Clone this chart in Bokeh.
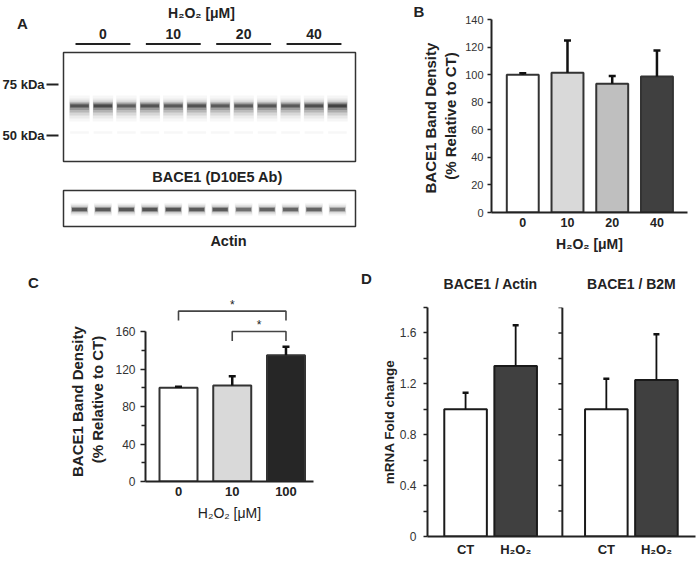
import numpy as np
from bokeh.plotting import figure
from bokeh.layouts import row, column
from bokeh.models import Range1d, FixedTicker, Whisker, TeeHead, ColumnDataSource, LinearAxis
from bokeh.core.properties import value
from bokeh.embed import file_html
from bokeh.resources import INLINE

FONT = "Liberation Sans"
TXT = "#222222"

# ---------------- data ----------------
# Panel A (western blot)
lanes = list(range(1, 13))
groups_A = ["0", "10", "20", "40"]
group_centers_A = [2, 5, 8, 11]
bace1_intensity = [0.95, 1.05, 0.85, 0.95, 0.90, 0.95, 0.88, 0.88, 0.92, 0.90, 0.98, 1.12]
actin_intensity = [0.95, 0.95, 0.98, 1.00, 1.00, 0.95, 0.95, 0.78, 0.88, 0.86, 0.88, 0.70]
marker_labels = ["75 kDa", "50 kDa"]

# Panel B
b_cats = ["0", "10", "20", "40"]
b_vals = [100.0, 101.3, 93.4, 98.7]
b_err = [1.0, 23.4, 5.7, 18.8]
b_colors = ["#ffffff", "#d9d9d9", "#bfbfbf", "#404040"]
b_yticks = [0, 20, 40, 60, 80, 100, 120, 140]

# Panel C
c_cats = ["0", "10", "100"]
c_vals = [100.0, 102.4, 134.8]
c_err = [1.0, 9.9, 8.9]
c_colors = ["#ffffff", "#d9d9d9", "#262626"]
c_pairs = [(0, 2), (1, 2)]
c_sig = ["*", "*"]
c_yticks = [0, 40, 80, 120, 160]
c_yminor = [20, 60, 100, 140]

# Panel D
d_groups = ["BACE1 / Actin", "BACE1 / B2M"]
d_cats = ["CT", "H\u2082O\u2082"]
d_vals = [[1.00, 1.34], [1.00, 1.23]]
d_err = [[0.13, 0.32], [0.24, 0.36]]
d_colors = ["#ffffff", "#404040"]
d_yticks = [0, 0.4, 0.8, 1.2, 1.6]
d_yminor = [0.2, 0.6, 1.0, 1.4, 1.8]

H2O2 = "H\u2082O\u2082 [\u03bcM]"
NB = "\u00a0"


def base_fig(w, h, xr, yr, **kw):
    p = figure(width=w, height=h, x_range=xr, y_range=yr, toolbar_location=None,
               output_backend="svg", outline_line_color=None,
               background_fill_color="white", border_fill_color="white", **kw)
    p.xgrid.visible = False
    p.ygrid.visible = False
    return p


def style_axis(ax):
    ax.axis_line_width = 2
    ax.axis_line_color = "#222222"
    ax.major_tick_line_color = "#222222"
    ax.major_tick_line_width = 1.5
    ax.minor_tick_line_color = "#222222"
    ax.minor_tick_line_width = 1.5
    ax.major_tick_in = 0
    ax.minor_tick_in = 0
    ax.major_label_text_font = FONT
    ax.major_label_text_color = "#333333"
    ax.axis_label_text_font = FONT
    ax.axis_label_text_color = TXT


# ---------------- Panel A (also carries the C and D letters) ----------------
LANE_PX = 23.45
def lx(px):
    return 1 + (px - 79) / LANE_PX

pA = base_fig(378, 292, Range1d(lx(0), lx(378)), Range1d(292, 0),
              x_axis_location=None, y_axis_location=None, min_border=0)

# BACE1 band: layers (top, bottom, width in lanes, alpha)
for top, bot, wid, a in [(95, 121, 0.88, 0.035), (98, 118, 0.86, 0.05), (100, 115, 0.85, 0.09),
                         (101.5, 112, 0.84, 0.15), (102.5, 109.5, 0.82, 0.18),
                         (103.5, 107.5, 0.80, 0.25), (104.3, 106.5, 0.78, 0.30)]:
    pA.rect(x=lanes, y=(top + bot) / 2, width=wid, height=bot - top, fill_color="black",
            fill_alpha=[min(1.0, a * v) for v in bace1_intensity], line_color=None)
pA.rect(x=lanes, y=132, width=0.8, height=2.5, fill_color="black", fill_alpha=0.03, line_color=None)
# actin band
for top, bot, wid, a in [(203, 215, 0.76, 0.07), (205, 213, 0.72, 0.14),
                         (206.5, 211.5, 0.68, 0.28), (207.5, 210.5, 0.64, 0.42)]:
    pA.rect(x=lanes, y=(top + bot) / 2, width=wid, height=bot - top, fill_color="black",
            fill_alpha=[min(1.0, a * v) for v in actin_intensity], line_color=None)

pA.quad(left=[lx(63), lx(63)], right=[lx(355), lx(355)], top=[52, 190], bottom=[161, 226],
        fill_color=None, line_color="#333333", line_width=1.5)

pA.segment(x0=[lx(46)] * 2, x1=[lx(58)] * 2, y0=[84, 135], y1=[84, 135], line_color=TXT, line_width=2)
pA.text(x=[lx(44)] * 2, y=[84, 135], text=marker_labels, text_font=value(FONT),
        text_font_style="bold", text_font_size="13px", text_color=TXT,
        text_align="right", text_baseline="middle")

pA.text(x=group_centers_A, y=[33] * 4, text=groups_A, text_font=value(FONT),
        text_font_style="bold", text_font_size="14px", text_color=TXT,
        text_align="center", text_baseline="middle")
pA.segment(x0=[g - 1.17 for g in group_centers_A], x1=[g + 1.17 for g in group_centers_A],
           y0=[43.5] * 4, y1=[43.5] * 4, line_color=TXT, line_width=2)
pA.text(x=[lx(201)], y=[12], text=[H2O2], text_font=value(FONT), text_font_style="bold",
        text_font_size="14px", text_color=TXT, text_align="center", text_baseline="middle")
pA.text(x=[lx(217), lx(228)], y=[176, 240], text=["BACE1 (D10E5 Ab)", "Actin"],
        text_font=value(FONT), text_font_style="bold", text_font_size="14.5px",
        text_color=TXT, text_align="center", text_baseline="middle")
pA.text(x=[lx(22), lx(33), lx(366)], y=[23, 282, 278], text=["A", "C", "D"],
        text_font=value(FONT), text_font_style="bold",
        text_font_size="15px", text_color=TXT, text_align="center", text_baseline="middle")

# ---------------- Panel B ----------------
bx = list(range(len(b_cats)))
pB = base_fig(321, 272, Range1d(-0.699, 3.683), Range1d(0, 140), title="B",
              min_border_left=113, min_border_right=12, min_border_top=18, min_border_bottom=60)
pB.title.text_font = FONT
pB.title.text_font_size = "15px"
pB.title.text_font_style = "bold"
pB.title.text_color = TXT
pB.title.align = "left"
pB.title.offset = -78
pB.title.standoff = 0
pB.vbar(x=bx, top=b_vals, bottom=0, width=0.714, fill_color=b_colors,
        line_color="#333333", line_width=2)
srcB = ColumnDataSource(dict(base=bx, lower=b_vals, upper=[v + e for v, e in zip(b_vals, b_err)]))
pB.add_layout(Whisker(source=srcB, base="base", lower="lower", upper="upper", level="overlay",
                      line_color="#111111", line_width=2.5, lower_head=None,
                      upper_head=TeeHead(size=7, line_width=2.5, line_color="#111111")))
for ax in (pB.xaxis[0], pB.yaxis[0]):
    style_axis(ax)
yb = pB.yaxis[0]
yb.ticker = FixedTicker(ticks=b_yticks, minor_ticks=[])
yb.major_tick_out = 4
yb.minor_tick_out = 0
yb.major_label_standoff = 4
yb.major_label_text_font_size = "11px"
yb.axis_label = "BACE1  Band Density\n(% Relative to CT)"
yb.axis_label_text_font_style = "bold"
yb.axis_label_text_font_size = "15px"
yb.axis_label_standoff = 3
xb = pB.xaxis[0]
xb.ticker = FixedTicker(ticks=bx, minor_ticks=[])
xb.major_label_overrides = {i: c for i, c in zip(bx, b_cats)}
xb.major_tick_out = 0
xb.minor_tick_out = 0
xb.major_label_standoff = 5
xb.major_label_text_font_style = "bold"
xb.major_label_text_font_size = "12.5px"
xb.major_label_text_color = TXT
xb.axis_label = H2O2
xb.axis_label_text_font_style = "bold"
xb.axis_label_text_font_size = "14px"
xb.axis_label_standoff = 6

# ---------------- Panel C ----------------
cx = list(range(len(c_cats)))
pC = base_fig(378, 273, Range1d(-0.614, 2.512), Range1d(0, 201.6),
              min_border_left=145, min_border_right=65, min_border_top=0, min_border_bottom=84)
pC.vbar(x=cx, top=c_vals, bottom=0, width=0.707, fill_color=c_colors,
        line_color="#333333", line_width=2)
srcC = ColumnDataSource(dict(base=cx, lower=c_vals, upper=[v + e for v, e in zip(c_vals, c_err)]))
pC.add_layout(Whisker(source=srcC, base="base", lower="lower", upper="upper", level="overlay",
                      line_color="#111111", line_width=2.5, lower_head=None,
                      upper_head=TeeHead(size=7, line_width=2.5, line_color="#111111")))
br_y = [181.7, 160.0]
leg = 10.0
for (a, b), yb_ in zip(c_pairs, br_y):
    pC.line(x=[a, a, b, b], y=[yb_ - leg, yb_, yb_, yb_ - leg], line_color="#444444", line_width=1.6)
pC.text(x=[1.0, 1.5], y=[y + 7 for y in br_y], text=c_sig,
        text_font=value(FONT), text_font_size="12px", text_color=TXT,
        text_align="center", text_baseline="middle")
for ax in (pC.xaxis[0], pC.yaxis[0]):
    style_axis(ax)
yc = pC.yaxis[0]
yc.bounds = (0, 160)
yc.ticker = FixedTicker(ticks=c_yticks, minor_ticks=c_yminor)
yc.major_tick_out = 5
yc.minor_tick_out = 4
yc.major_label_standoff = 5
yc.major_label_text_font_size = "12px"
# trailing no-break spaces shift the centred title towards the bounded part of the axis
yc.axis_label = "BACE1  Band Density" + NB * 6 + "\n(% Relative to CT)" + NB * 6
yc.axis_label_text_font_style = "bold"
yc.axis_label_text_font_size = "15px"
yc.axis_label_standoff = 6
xc = pC.xaxis[0]
xc.ticker = FixedTicker(ticks=cx, minor_ticks=[])
xc.major_label_overrides = {i: c for i, c in zip(cx, c_cats)}
xc.major_tick_out = 0
xc.minor_tick_out = 0
xc.major_label_standoff = 5
xc.major_label_text_font_style = "bold"
xc.major_label_text_font_size = "13px"
xc.major_label_text_color = TXT
xc.axis_label = H2O2
xc.axis_label_text_font_style = "normal"
xc.axis_label_text_font_size = "14px"
xc.axis_label_standoff = 6

# ---------------- Panel D ----------------
d_first = 0.76
d_group_offset = 2.81
d_mid_axis = 2.692
d_x = [d_first + g * d_group_offset + j for g in range(2) for j in range(2)]
d_v = [v for grp in d_vals for v in grp]
d_e = [e for grp in d_err for e in grp]
d_c = [d_colors[j] for g in range(2) for j in range(2)]
d_lab = [d_cats[j] for g in range(2) for j in range(2)]
d_centers = [d_first + g * d_group_offset + 0.5 for g in range(2)]
pD = base_fig(321, 293, Range1d(0, 5.35), Range1d(0, 1.8),
              min_border_left=45, min_border_right=4, min_border_top=31, min_border_bottom=29)
pD.vbar(x=d_x, top=d_v, bottom=0, width=0.85, fill_color=d_c, line_color="#1a1a1a", line_width=2)
srcD = ColumnDataSource(dict(base=d_x, lower=d_v, upper=[v + e for v, e in zip(d_v, d_e)]))
pD.add_layout(Whisker(source=srcD, base="base", lower="lower", upper="upper", level="overlay",
                      line_color="#111111", line_width=1.8, lower_head=None,
                      upper_head=TeeHead(size=6, line_width=2.5, line_color="#111111")))
tick_len = 4 / 51.0
pD.segment(x0=[d_mid_axis], x1=[d_mid_axis], y0=[0], y1=[1.8], line_color="#222222", line_width=2)
all_ticks = sorted(d_yticks[1:] + d_yminor)
pD.segment(x0=[d_mid_axis - tick_len] * len(all_ticks), x1=[d_mid_axis] * len(all_ticks),
           y0=all_ticks, y1=all_ticks, line_color="#222222", line_width=1.5)
for ax in (pD.xaxis[0], pD.yaxis[0]):
    style_axis(ax)
yd = pD.yaxis[0]
yd.ticker = FixedTicker(ticks=d_yticks, minor_ticks=d_yminor)
yd.major_label_overrides = {0: "0"}
yd.major_tick_out = 4
yd.minor_tick_out = 4
yd.major_label_standoff = 7
yd.major_label_text_font_size = "12px"
yd.axis_label = "mRNA Fold change"
yd.axis_label_text_font_style = "bold"
yd.axis_label_text_font_size = "13.5px"
yd.axis_label_standoff = 0
xd = pD.xaxis[0]
xd.ticker = FixedTicker(ticks=d_x, minor_ticks=[])
xd.major_label_overrides = {x: l for x, l in zip(d_x, d_lab)}
xd.major_tick_out = 0
xd.minor_tick_out = 0
xd.major_label_standoff = 5
xd.major_label_text_font_style = "bold"
xd.major_label_text_font_size = "13px"
xd.major_label_text_color = TXT
top_ax = LinearAxis(ticker=FixedTicker(ticks=d_centers, minor_ticks=[]),
                    major_label_overrides={c: g for c, g in zip(d_centers, d_groups)},
                    axis_line_color=None, major_tick_line_color=None, minor_tick_line_color=None,
                    major_label_standoff=10, major_label_text_font=FONT,
                    major_label_text_font_style="bold", major_label_text_font_size="14px",
                    major_label_text_color=TXT)
pD.add_layout(top_ax, "above")

layout = row(column(row(pA), row(pC)), column(row(pB), row(pD)))
open("out.html", "w").write(file_html(layout, INLINE))
